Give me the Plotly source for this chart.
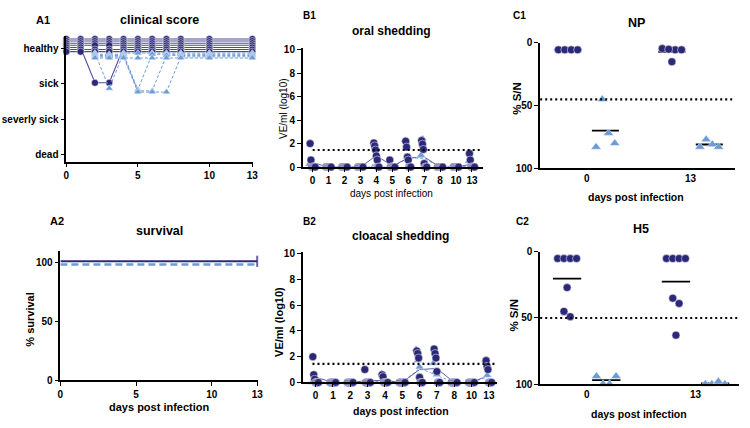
import numpy as np
import plotly.graph_objects as go

PURPLE = "#2c2878"
PURPLE_LINE = "#4f499c"
BLUE = "#6c9bd6"
FONT = "Liberation Sans, Arial, sans-serif"
W, H = 750, 428

# ---------------- data ----------------
days = [0, 1, 2, 3, 4, 5, 6, 7, 8, 10, 13]
day_labels = ["0", "1", "2", "3", "4", "5", "6", "7", "8", "10", "13"]
score_labels = ["dead", "severly sick", "sick", "healthy"]

# clinical score: 3 = healthy, 2 = sick  (one row per animal)
clin_purple = [
    [3, 3, 3, 3, 3, 3, 3, 3, 3, 3, 3],
    [3, 3, 3, 3, 3, 3, 3, 3, 3, 3, 3],
    [3, 3, 3, 3, 3, 3, 3, 3, 3, 3, 3],
    [3, 3, 3, 3, 3, 3, 3, 3, 3, 3, 3],
    [3, 3, 2, 2, 3, 3, 3, 3, 3, 3, 3],
    [3, 3, 3, 3, 3, 3, 3, 3, 3, 3, 3],
    [3, 3, 3, 3, 3, 3, 3, 3, 3, 3, 3],
]
clin_blue = [
    [None, None, 3, 2, 3, 3, 3, 3, 3, 3, 3],
    [None, None, 3, 3, 3, 2, 3, 3, 3, 3, 3],
    [None, None, 3, 3, 3, 2, 2, 3, 3, 3, 3],
    [None, None, 3, 3, 3, 2, 2, 2, 3, 3, 3],
    [None, None, 3, 3, 3, 3, 3, 3, 3, 3, 3],
]

surv_days = [0, 13]
surv_purple = [100, 100]
surv_blue = [100, 100]

oral_purple = [
    [2.0, 0, 0, 0, 2.05, 0.6, 2.2, 2.25, 0, 0, 1.15],
    [0.6, 0, 0, 0, 1.8, 0, 1.7, 1.95, 0, 0, 0.6],
    [0, 0, 0, 0, 1.45, 0, 0.85, 1.5, 0, 0, 0],
    [0, 0, 0, 0, 0.95, 0, 0.6, 0.3, 0, 0, 0],
    [0, 0, 0, 0, 0.6, 0, 0, 0, 0, 0, 0],
    [0, 0, 0, 0, 0, 0, 0, 0, 0, 0, 0],
    [0, 0, 0, 0, 0, 0, 0, 0, 0, 0, 0],
]
oral_blue = [
    [0.25, 0, 0, 0, 0, 0, 2.3, 1.0, 0, 0, 0.5],
    [0, 0, 0, 0, 0, 0, 1.65, 2.4, 0, 0, 0],
    [0, 0, 0, 0, 0, 0, 0, 0.3, 0, 0, 0],
    [0, 0, 0, 0, 0, 0, 0, 0, 0, 0, 0],
    [0, 0, 0, 0, 0, 0, 0, 0, 0, 0, 0],
]
cloacal_purple = [
    [2.0, 0, 0, 1.0, 0.6, 0, 2.45, 2.6, 0, 0, 1.7],
    [0.6, 0, 0, 0, 0.45, 0, 2.25, 2.25, 0, 0, 1.25],
    [0.25, 0, 0, 0, 0, 0, 1.9, 1.9, 0, 0, 1.0],
    [0, 0, 0, 0, 0, 0, 0.4, 0.85, 0, 0, 0],
    [0, 0, 0, 0, 0, 0, 0, 0, 0, 0, 0],
    [0, 0, 0, 0, 0, 0, 0, 0, 0, 0, 0],
    [0, 0, 0, 0, 0, 0, 0, 0, 0, 0, 0],
]
cloacal_blue = [
    [0, 0, 0, 0, 0.7, 0, 2.6, 1.5, 0, 0, 1.75],
    [0, 0, 0, 0, 0, 0, 1.7, 0.8, 0, 0, 0.55],
    [0, 0, 0, 0, 0, 0, 1.2, 0.6, 0, 0, 0],
    [0, 0, 0, 0, 0, 0, 0, 0, 0, 0, 0],
    [0, 0, 0, 0, 0, 0, 0, 0, 0, 0, 0],
]
shed_cutoff = 1.45

sero_days = ["0", "13"]
np_purple = [[5.5, 5.5, 5.5, 5.5], [5.5, 4.5, 15.0, 5.0, 5.5]]
np_blue = [[83, 45, 72, 80], [83, 77, 81, 83]]
np_cutoff = 45
h5_purple = [[49, 5, 5, 27, 5, 5, 45], [39, 5, 5, 63, 5, 5, 35]]
h5_blue = [[94, 100, 100, 94], [100, 100, 98, 100]]
h5_cutoff = 50

# ---------------- helpers ----------------
fig = go.Figure()


def dom_x(p0, p1):
    return [p0 / W, p1 / W]


def dom_y(top, bottom):
    return [1 - bottom / H, 1 - top / H]


axis_common = dict(
    showline=True, linecolor="black", linewidth=1.6, ticks="outside", ticklen=4,
    tickwidth=1.4, tickcolor="black", showgrid=False, zeroline=False,
    tickfont=dict(family=FONT, size=10, color="black", weight="bold"),
)

# ---------------- A1 clinical score ----------------
for i, row in enumerate(clin_purple):
    off = 0.27 - 0.06 * i
    y = [v + off if v is not None else None for v in row]
    fig.add_trace(go.Scatter(
        x=days, y=y, mode="lines+markers", xaxis="x", yaxis="y", cliponaxis=False,
        line=dict(color=PURPLE_LINE, width=1.1),
        marker=dict(symbol="circle", size=7, color=PURPLE, line=dict(color="white", width=0.5))))
for i, row in enumerate(clin_blue):
    off = -0.13 - 0.035 * i
    y = [v + off if v is not None else None for v in row]
    fig.add_trace(go.Scatter(
        x=days, y=y, mode="lines+markers", xaxis="x", yaxis="y", cliponaxis=False,
        line=dict(color=BLUE, width=1.0, dash="3px,2px"),
        marker=dict(symbol="triangle-up", size=7, color=BLUE, line=dict(color="white", width=0.5))))

# ---------------- A2 survival ----------------
fig.add_trace(go.Scatter(
    x=surv_days, y=[v - 1.5 for v in surv_blue], mode="lines", xaxis="x2", yaxis="y2",
    cliponaxis=False, line=dict(color=BLUE, width=2.6, dash="7px,4px")))
fig.add_trace(go.Scatter(
    x=surv_days, y=[v + 1.2 for v in surv_purple], mode="lines+markers", xaxis="x2", yaxis="y2",
    cliponaxis=False, line=dict(color=PURPLE, width=2.2),
    marker=dict(symbol="line-ns", size=[0, 8], line=dict(color=PURPLE, width=2))))


# ---------------- B shedding ----------------
def shedding(purple, blue, xa, ya):
    n_p, n_b = len(purple), len(blue)
    jit_p = np.linspace(-0.16, 0.16, n_p)
    jit_b = np.linspace(-0.2, 0.2, n_b)
    idx = np.arange(len(days))
    mean_p = np.mean(np.array(purple, dtype=float), axis=0)
    mean_b = np.mean(np.array(blue, dtype=float), axis=0)
    fig.add_trace(go.Scatter(x=idx, y=mean_b, mode="lines", xaxis=xa, yaxis=ya, cliponaxis=False,
                             line=dict(color=BLUE, width=0.9, dash="3px,2px")))
    fig.add_trace(go.Scatter(x=idx, y=mean_p, mode="lines", xaxis=xa, yaxis=ya, cliponaxis=False,
                             line=dict(color=PURPLE_LINE, width=0.9)))
    for j, row in enumerate(blue):
        fig.add_trace(go.Scatter(
            x=idx + jit_b[j], y=row, mode="markers", xaxis=xa, yaxis=ya, cliponaxis=False,
            marker=dict(symbol="triangle-up", size=8, color=BLUE, line=dict(color="white", width=0.6))))
    for j, row in enumerate(purple):
        fig.add_trace(go.Scatter(
            x=idx + jit_p[j], y=row, mode="markers", xaxis=xa, yaxis=ya, cliponaxis=False,
            marker=dict(symbol="circle", size=8, color=PURPLE, line=dict(color="white", width=0.5))))


shedding(oral_purple, oral_blue, "x3", "y3")
shedding(cloacal_purple, cloacal_blue, "x4", "y4")


# ---------------- C serology ----------------
def swarm(values, center, slot, tol):
    """Spread values that would overlap symmetrically around the group centre."""
    vals = np.asarray(values, dtype=float)
    order = np.argsort(vals, kind="stable")
    xs = np.zeros(len(vals))
    clusters, cur = [], [order[0]]
    for k in order[1:]:
        if abs(vals[k] - vals[cur[0]]) <= tol:
            cur.append(k)
        else:
            clusters.append(cur)
            cur = [k]
    clusters.append(cur)
    for cl in clusters:
        m = len(cl)
        for r, k in enumerate(cl):
            xs[k] = center + (r - (m - 1) / 2) * slot
    return xs


def serology(purple, blue, xa, ya, slot):
    mx, my = [], []
    for k in range(len(sero_days)):
        for grp, center in ((purple[k], k - 0.18), (blue[k], k + 0.18)):
            m = float(np.mean(grp))
            mx += [center - 0.13, center + 0.13, None]
            my += [m, m, None]
    fig.add_trace(go.Scatter(x=mx, y=my, mode="lines", xaxis=xa, yaxis=ya, cliponaxis=False,
                             line=dict(color="black", width=1.8)))
    for k in range(len(sero_days)):
        xb = np.linspace(k + 0.18 - 0.09, k + 0.18 + 0.09, len(blue[k]))
        fig.add_trace(go.Scatter(
            x=xb, y=blue[k], mode="markers", xaxis=xa, yaxis=ya, cliponaxis=False,
            marker=dict(symbol="triangle-up", size=9, color=BLUE, line=dict(color="white", width=0.5))))
        xp = swarm(purple[k], k - 0.18, slot, 4.0)
        fig.add_trace(go.Scatter(
            x=xp, y=purple[k], mode="markers", xaxis=xa, yaxis=ya, cliponaxis=False,
            marker=dict(symbol="circle", size=8, color=PURPLE, line=dict(color="white", width=0.5))))


serology(np_purple, np_blue, "x5", "y5", 0.062)
serology(h5_purple, h5_blue, "x6", "y6", 0.058)

# ---------------- layout ----------------
lay = {}
lay["xaxis"] = dict(axis_common, domain=dom_x(64, 253), range=[0, 13.07], anchor="y",
                    tickvals=[0, 5, 10, 13])
lay["yaxis"] = dict(axis_common, domain=dom_y(31, 160), range=[-0.2, 3.35], anchor="x",
                    tickvals=[0, 1, 2, 3], ticktext=score_labels)
lay["xaxis2"] = dict(axis_common, domain=dom_x(58, 258), range=[0, 13.07], anchor="y2",
                     tickvals=[0, 5, 10, 13])
lay["yaxis2"] = dict(axis_common, domain=dom_y(252, 385), range=[0, 110], anchor="x2",
                     tickvals=[0, 50, 100])
lay["xaxis3"] = dict(axis_common, domain=dom_x(303, 485), range=[-0.62, 10.68], anchor="y3",
                     tickvals=list(range(len(days))), ticktext=day_labels, ticklen=3)
lay["yaxis3"] = dict(axis_common, domain=dom_y(43, 165.7), range=[0, 10.15], anchor="x3",
                     tickvals=[0, 2, 4, 6, 8, 10])
lay["xaxis4"] = dict(axis_common, domain=dom_x(303, 499), range=[-0.74, 10.45], anchor="y4",
                     tickvals=list(range(len(days))), ticktext=day_labels, ticklen=3)
lay["yaxis4"] = dict(axis_common, domain=dom_y(253, 387.3), range=[0, 10.15], anchor="x4",
                     tickvals=[0, 2, 4, 6, 8, 10])
lay["xaxis5"] = dict(axis_common, domain=dom_x(543, 740), range=[-0.4476, 1.4286], anchor="y5",
                     tickvals=[0, 1], ticktext=sero_days, ticks="")
lay["yaxis5"] = dict(axis_common, domain=dom_y(38, 167), range=[100, 0], anchor="x5",
                     tickvals=[0, 50, 100])
lay["xaxis6"] = dict(axis_common, domain=dom_x(543, 744), range=[-0.427, 1.4], anchor="y6",
                     tickvals=[0, 1], ticktext=sero_days, ticks="")
lay["yaxis6"] = dict(axis_common, domain=dom_y(253, 389), range=[100, 0], anchor="x6",
                     tickvals=[0, 50, 100])

shapes = [
    dict(type="line", xref="x3 domain", yref="y3", x0=0.055, x1=0.99, y0=shed_cutoff, y1=shed_cutoff,
         line=dict(color="black", width=2.2, dash="2px,3px")),
    dict(type="line", xref="x4 domain", yref="y4", x0=0.05, x1=0.99, y0=shed_cutoff, y1=shed_cutoff,
         line=dict(color="black", width=2.2, dash="2px,3px")),
    dict(type="line", xref="x5 domain", yref="y5", x0=0.0, x1=1.0, y0=np_cutoff, y1=np_cutoff,
         line=dict(color="black", width=2.2, dash="2px,3px")),
    dict(type="line", xref="x6 domain", yref="y6", x0=0.0, x1=1.0, y0=h5_cutoff, y1=h5_cutoff,
         line=dict(color="black", width=2.2, dash="2px,3px")),
]

annotations = []


def ann(text, x, y, size, bold=True, angle=0):
    annotations.append(dict(
        text=text, x=x / W, y=1 - y / H, xref="paper", yref="paper", showarrow=False,
        xanchor="center", yanchor="middle", textangle=angle,
        font=dict(family=FONT, size=size, color="black", weight="bold" if bold else "normal")))


ann("A1", 40, 14, 11)
ann("clinical score", 158, 14, 12.5)
ann("A2", 55, 221, 11)
ann("survival", 158, 231, 12.5)
ann("B1", 310, 10, 10)
ann("oral shedding", 393, 26, 12)
ann("B2", 310, 222, 10)
ann("cloacal shedding", 402, 237, 12)
ann("C1", 522, 10, 10)
ann("NP", 640, 17, 12.5)
ann("C2", 525, 222, 10)
ann("H5", 645, 229, 12.5)

ann("% survival", 27, 323, 11, angle=-90)
ann("days post infection", 158, 413, 11)
ann("VE/ml (log10)", 283, 105, 10, bold=False, angle=-90)
ann("days post infection", 393, 193, 10, bold=False)
ann("VE/ml (log10)", 279, 325, 11, angle=-90)
ann("days post infection", 402, 417, 10.5)
ann("% S/N", 520, 95, 11.5, angle=-90)
ann("days post infection", 640, 197, 10.5)
ann("% S/N", 517, 318, 11.5, angle=-90)
ann("days post infection", 643, 420, 10.5)

fig.update_layout(
    width=W, height=H, margin=dict(l=0, r=0, t=0, b=0), showlegend=False,
    paper_bgcolor="white", plot_bgcolor="white", shapes=shapes, annotations=annotations,
    font=dict(family=FONT, color="black"), **lay)

fig.write_html("out.html", config={"displayModeBar": False},
               post_script="document.body.style.margin='0px';document.body.style.overflow='hidden';")
